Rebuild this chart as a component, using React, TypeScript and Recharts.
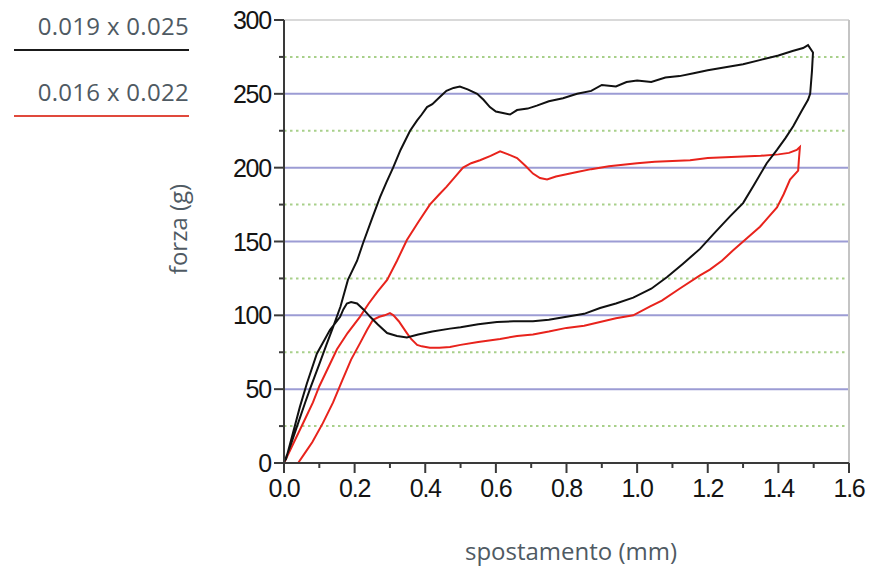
import React from 'react';
import { LineChart, Line, XAxis, YAxis, ReferenceLine } from 'recharts';

const blackLoop: [number, number][] = [
  [0, 0], [0.02, 13], [0.04, 27], [0.06, 41], [0.075, 51], [0.1, 67], [0.12, 80], [0.139, 92],
  [0.16, 106], [0.181, 124], [0.207, 137], [0.224, 149], [0.25, 166], [0.272, 180], [0.29, 190],
  [0.309, 200], [0.33, 212], [0.357, 225], [0.377, 232], [0.39, 236], [0.405, 241], [0.42, 243],
  [0.442, 248], [0.46, 252], [0.48, 254], [0.498, 255], [0.52, 253], [0.547, 250], [0.565, 246],
  [0.583, 241], [0.6, 238], [0.62, 237], [0.64, 236], [0.66, 239], [0.69, 240], [0.716, 242],
  [0.75, 245], [0.79, 247], [0.83, 250], [0.87, 252], [0.9, 256], [0.94, 255], [0.97, 258],
  [1.0, 259], [1.04, 258], [1.08, 261], [1.12, 262], [1.16, 264], [1.2, 266], [1.25, 268],
  [1.3, 270], [1.35, 273], [1.4, 276], [1.44, 279], [1.47, 281], [1.484, 283], [1.498, 278],
  [1.495, 265], [1.49, 250], [1.484, 246], [1.465, 238], [1.442, 228], [1.42, 220], [1.396, 212],
  [1.367, 203], [1.33, 188], [1.3, 176], [1.263, 167], [1.22, 156], [1.178, 145], [1.13, 135],
  [1.085, 126], [1.04, 118], [0.989, 112], [0.94, 108], [0.895, 105], [0.85, 101], [0.8, 99],
  [0.75, 97], [0.705, 96], [0.65, 96], [0.603, 95.5], [0.55, 94], [0.5, 92], [0.47, 91],
  [0.42, 89], [0.38, 87], [0.348, 85], [0.32, 86], [0.292, 88], [0.265, 94], [0.244, 99],
  [0.225, 104], [0.207, 108], [0.19, 109], [0.178, 108], [0.168, 104], [0.159, 99], [0.13, 90],
  [0.093, 74], [0.065, 54], [0.045, 38], [0.025, 20], [0.005, 2],
];

const redLoop: [number, number][] = [
  [0, 0], [0.02, 10], [0.04, 20], [0.06, 30], [0.082, 41], [0.1, 52], [0.122, 63], [0.15, 77],
  [0.18, 88], [0.215, 99], [0.24, 108], [0.265, 116], [0.292, 124], [0.32, 137], [0.348, 151],
  [0.38, 163], [0.413, 175], [0.44, 182], [0.46, 187], [0.485, 194], [0.507, 200], [0.53, 203],
  [0.555, 205], [0.585, 208], [0.612, 211], [0.635, 209], [0.66, 206.5], [0.685, 201],
  [0.705, 196], [0.725, 193], [0.745, 192], [0.77, 194], [0.79, 195], [0.83, 197], [0.87, 199],
  [0.92, 201], [0.96, 202], [1.0, 203], [1.05, 204], [1.1, 204.5], [1.15, 205], [1.2, 206.5],
  [1.25, 207], [1.3, 207.5], [1.35, 208], [1.4, 209], [1.43, 210], [1.452, 212], [1.461, 214],
  [1.458, 205], [1.456, 198], [1.433, 192], [1.415, 182], [1.396, 173], [1.37, 166],
  [1.348, 160], [1.31, 152], [1.272, 144], [1.24, 137], [1.206, 131], [1.178, 127], [1.12, 118],
  [1.07, 110], [1.037, 106], [0.989, 100], [0.94, 98], [0.895, 95.5], [0.85, 93], [0.8, 91.5],
  [0.75, 89], [0.705, 87], [0.66, 86], [0.612, 84], [0.55, 82], [0.5, 80], [0.47, 78.6],
  [0.44, 78], [0.413, 78], [0.39, 79], [0.377, 80], [0.36, 84], [0.348, 88], [0.325, 96],
  [0.31, 100], [0.3, 101.5], [0.285, 100], [0.27, 99], [0.252, 97], [0.235, 90], [0.215, 81],
  [0.19, 70], [0.165, 56], [0.139, 41], [0.11, 27], [0.08, 14], [0.06, 7], [0.04, 0],
];

const xTicks = [0, 0.1, 0.2, 0.3, 0.4, 0.5, 0.6, 0.7, 0.8, 0.9, 1.0, 1.1, 1.2, 1.3, 1.4, 1.5, 1.6];
const yTicks = [0, 25, 50, 75, 100, 125, 150, 175, 200, 225, 250, 275, 300];
const solidLines = [50, 100, 150, 200, 250];
const dottedLines = [25, 75, 125, 175, 225, 275];

const legendItems = [
  { label: '0.019 x 0.025', color: '#1a1a1a' },
  { label: '0.016 x 0.022', color: '#e0493c' },
];

const toPoints = (loop: [number, number][]) => loop.map(([x, y]) => ({ x, y }));

const tickFont = {
  fontFamily: '"Liberation Sans", Arial, sans-serif',
  fontSize: 25,
  letterSpacing: -1.2,
  fill: '#141414',
};

const XTick = (props: any) => {
  const { x, y, payload } = props;
  const major = Math.round(payload.value * 10) % 2 === 0;
  return (
    <g>
      <line x1={x} y1={y} x2={x} y2={y + (major ? 10 : 5)} stroke="#3a3a3a" strokeWidth={2} />
      {major && (
        <text x={x} y={y + 34} textAnchor="middle" {...tickFont}>
          {payload.value.toFixed(1)}
        </text>
      )}
    </g>
  );
};

const YTick = (props: any) => {
  const { x, y, payload } = props;
  const major = payload.value % 50 === 0;
  return (
    <g>
      <line x1={x - (major ? 10 : 5)} y1={y} x2={x} y2={y} stroke="#3a3a3a" strokeWidth={2} />
      {major && (
        <text x={x - 13} y={y + 9} textAnchor="end" {...tickFont}>
          {payload.value}
        </text>
      )}
    </g>
  );
};

const textStyle: React.CSSProperties = {
  position: 'absolute',
  fontFamily: '"Open Sans", sans-serif',
  fontSize: 24,
  color: '#4f5a63',
  lineHeight: '32px',
  whiteSpace: 'nowrap',
};

export default function App() {
  return (
    <div style={{ position: 'absolute', left: 0, top: 0, width: 873, height: 566, background: '#fff' }}>
      {/* legend */}
      {legendItems.map((item, i) => (
        <React.Fragment key={item.label}>
          <div style={{ ...textStyle, left: 14, width: 175, top: 10 + i * 66, textAlign: 'right', letterSpacing: 0.3 }}>
            {item.label}
          </div>
          <div
            style={{
              position: 'absolute',
              left: 14,
              top: 49 + i * 66,
              width: 175,
              height: 2,
              background: item.color,
            }}
          />
        </React.Fragment>
      ))}

      <LineChart
        width={873}
        height={566}
        margin={{ top: 20, right: 24, bottom: 0, left: 0 }}
      >
        {dottedLines.map((v) => (
          <ReferenceLine key={'d' + v} y={v} stroke="#a8d08a" strokeWidth={2} strokeDasharray="2.5 3.5" />
        ))}
        {solidLines.map((v) => (
          <ReferenceLine key={'s' + v} y={v} stroke="#9c9cd4" strokeWidth={2} />
        ))}
        <ReferenceLine y={300} stroke="#d9d9d9" strokeWidth={2} />
        <ReferenceLine x={1.6} stroke="#c4c4c4" strokeWidth={2} />
        <XAxis
          type="number"
          dataKey="x"
          domain={[0, 1.6]}
          ticks={xTicks}
          interval={0}
          height={103}
          tickSize={0}
          tickMargin={0}
          tickLine={false}
          axisLine={{ stroke: '#3a3a3a', strokeWidth: 2 }}
          tick={<XTick />}
          allowDataOverflow
        />
        <YAxis
          type="number"
          domain={[0, 300]}
          ticks={yTicks}
          interval={0}
          width={284}
          tickSize={0}
          tickMargin={0}
          tickLine={false}
          axisLine={{ stroke: '#3a3a3a', strokeWidth: 2 }}
          tick={<YTick />}
        />
        <Line
          data={toPoints(redLoop)}
          dataKey="y"
          type="linear"
          stroke="#e8231c"
          strokeWidth={2}
          dot={false}
          isAnimationActive={false}
        />
        <Line
          data={toPoints(blackLoop)}
          dataKey="y"
          type="linear"
          stroke="#111"
          strokeWidth={2}
          dot={false}
          isAnimationActive={false}
        />
      </LineChart>

      {/* axis titles */}
      <div
        style={{
          ...textStyle,
          left: 118,
          top: 213,
          width: 120,
          textAlign: 'center',
          transform: 'rotate(-90deg)',
        }}
      >
        forza (g)
      </div>
      <div style={{ ...textStyle, left: 421, top: 535, width: 300, textAlign: 'center' }}>
        spostamento (mm)
      </div>
    </div>
  );
}
